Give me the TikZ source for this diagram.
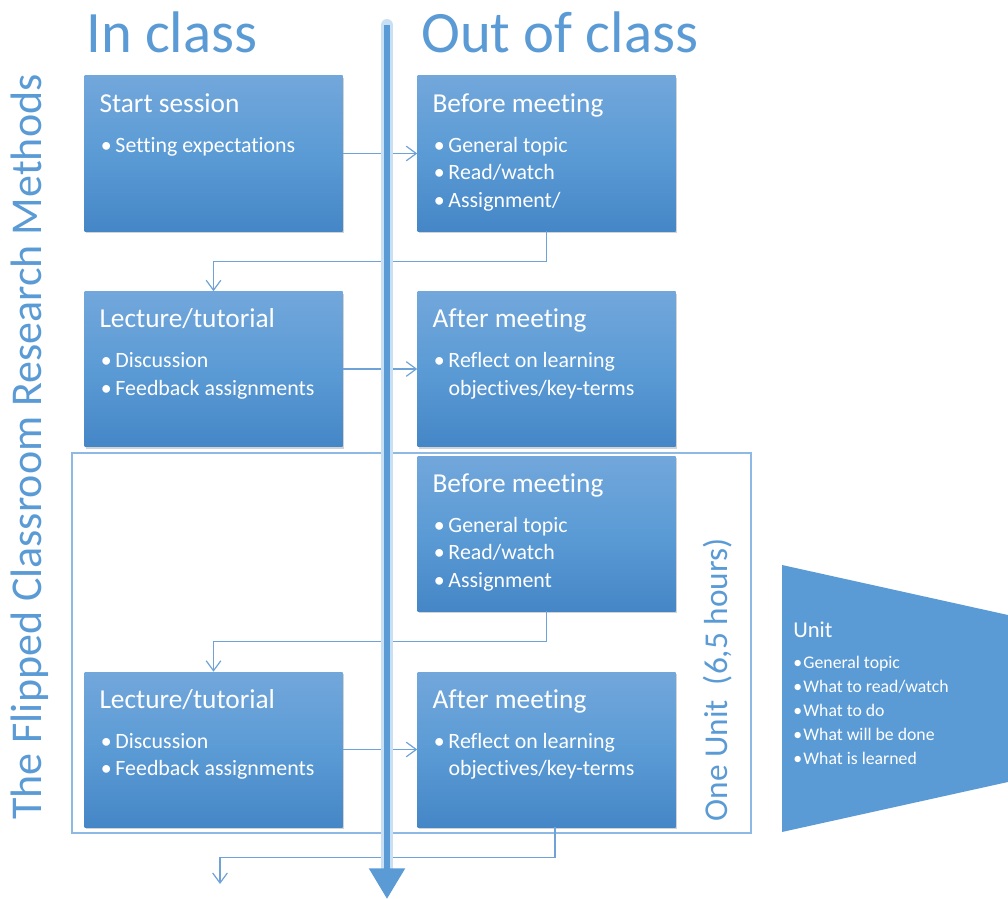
\documentclass[tikz,border=0pt]{standalone}
\usepackage{fontspec}
\setmainfont[Ligatures=NoCommon]{Carlito}
\usetikzlibrary{arrows.meta,shadows}

\definecolor{cardtop}{HTML}{72A7DB}
\definecolor{cardmid}{HTML}{5B9BD5}
\definecolor{cardbot}{HTML}{4586C7}
\definecolor{accent}{HTML}{5B9BD5}
\definecolor{wire}{HTML}{6FA3D8}
\definecolor{framecol}{HTML}{8DB9E4}
\definecolor{glow}{HTML}{C9E0F4}

\newcommand{\cardhead}[1]{{\fontsize{20.5}{24}\selectfont #1}\\[9.4pt]}
\newcommand{\itm}[1]{\hspace{1pt}\makebox[11pt][l]{\textbullet}#1}

\tikzset{
  card/.style={minimum width=193.5pt, minimum height=116.25pt, inner sep=0pt,
    top color=cardtop, bottom color=cardbot, middle color=cardmid,
    drop shadow={opacity=0.35, shadow xshift=0.8pt, shadow yshift=-1.5pt}},
  cardtext/.style={anchor=north west, inner sep=0pt, xshift=11.25pt, yshift=-13pt,
    align=left, text=white, font=\fontsize{16.4}{20.6}\selectfont},
  link/.style={draw=wire, line width=0.9pt, -{Straight Barb[length=7.5pt,width=11pt]}},
  heading/.style={anchor=base west, inner sep=0pt, text=accent, font=\fontsize{44}{44}\selectfont},
  sidetitle/.style={rotate=90, inner sep=0pt, text=accent}
}

\begin{document}
\begin{tikzpicture}[x=0.75pt,y=-0.75pt]
\useasboundingbox (0,0) rectangle (1008,899);

% column headings and side titles
\node[heading] (inclass) at (86,53) {In class};
\node[heading] (outclass) at (421,53) {Out of class};
\node[sidetitle, font=\fontsize{33}{33}\selectfont] (course) at (30,447) {The Flipped Classroom Research Methods};

% one unit
\node[draw=framecol, line width=2pt, minimum width=509.25pt, minimum height=285pt, inner sep=0pt] (unitframe) at (411.5,643) {};
\node[sidetitle, font=\fontsize{25}{25}\selectfont] (unitlen) at (718,680) {One Unit\ \ (6,5 hours)};

% in class / out of class cards
\node[card, label={[cardtext]north west:\cardhead{Start session}\itm{Setting expectations}}] (s1) at (213.5,153.5) {};
\node[card, label={[cardtext]north west:\cardhead{Before meeting}\itm{General topic}\\\itm{Read/watch}\\\itm{Assignment/}}] (b1) at (546.5,153.5) {};
\node[card, label={[cardtext]north west:\cardhead{Lecture/tutorial}\itm{Discussion}\\\itm{Feedback assignments}}] (l2) at (213.5,369) {};
\node[card, label={[cardtext]north west:\cardhead{After meeting}\itm{Reflect on learning}\\\hspace{12pt}objectives/key-terms}] (a2) at (546.5,369) {};
\node[card, label={[cardtext]north west:\cardhead{Before meeting}\itm{General topic}\\\itm{Read/watch}\\\itm{Assignment}}] (b3) at (546.5,533.5) {};
\node[card, label={[cardtext]north west:\cardhead{Lecture/tutorial}\itm{Discussion}\\\itm{Feedback assignments}}] (l4) at (213.5,749.5) {};
\node[card, label={[cardtext]north west:\cardhead{After meeting}\itm{Reflect on learning}\\\hspace{12pt}objectives/key-terms}] (a4) at (546.5,749.5) {};

% connectors
\coordinate (next) at (220,884);
\draw[link] (s1) -- (b1);
\draw[link] (b1.south) -- ++(0,30) -| (l2.north);
\draw[link] (l2) -- (a2);
\draw[link] (b3.south) -- ++(0,30) -| (l4.north);
\draw[link] (l4) -- (a4);
\draw[link] ([xshift=6.4pt]a4.south) -- ++(0,30) -| (next);

% time axis
\coordinate (axis top) at (387,25);
\coordinate (axis end) at (387,899);
\draw[glow, line width=9pt, line cap=round] (axis top) -- ([yshift=18pt]axis end);
\draw[accent, line width=4.8pt, -{Triangle[length=23pt,width=26pt]}] (axis top) -- (axis end);

% unit summary
\fill[accent] (782,565) -- (1008,615) -- (1008,782) -- (782,832) -- cycle;
\node[anchor=north west, inner sep=0pt, align=left, text=white, font=\fontsize{13.3}{18}\selectfont] (unitlist) at (793,622)
  {{\fontsize{17}{20}\selectfont Unit}\\[5.25pt]
   \textbullet\hspace{1pt}General topic\\
   \textbullet\hspace{1pt}What to read/watch\\
   \textbullet\hspace{1pt}What to do\\
   \textbullet\hspace{1pt}What will be done\\
   \textbullet\hspace{1pt}What is learned};
\end{tikzpicture}
\end{document}
